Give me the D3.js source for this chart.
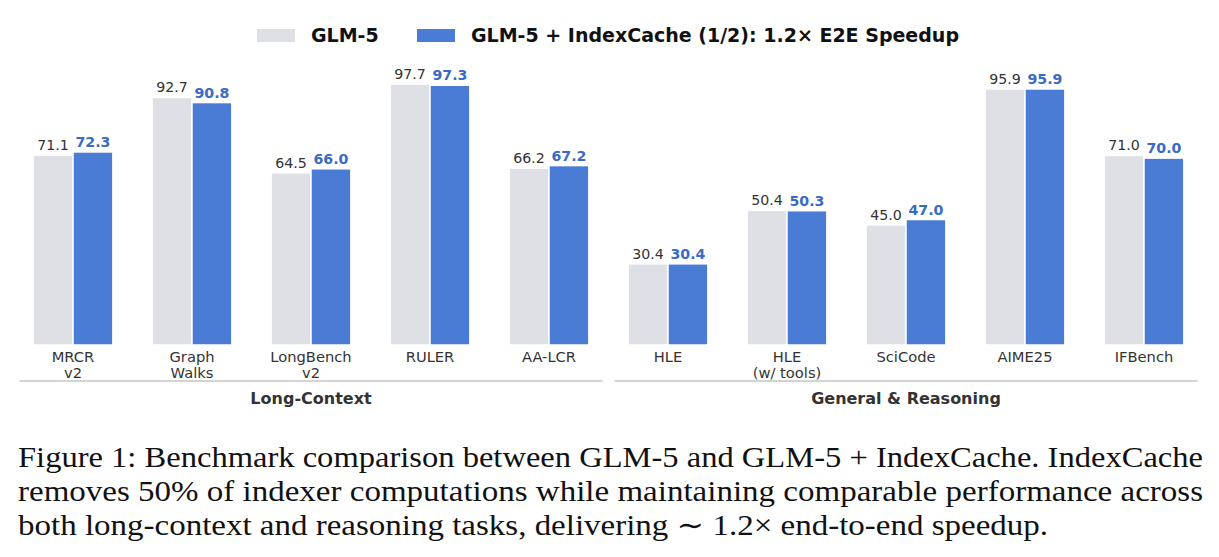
<!DOCTYPE html>
<html>
<head>
<meta charset="utf-8">
<script src="https://cdn.jsdelivr.net/npm/d3@7"></script>
<style>
  body { margin: 0; background: #fff; }
  .sans { font-family: "DejaVu Sans", sans-serif; }
  .caption { font-family: "Liberation Serif", "DejaVu Serif", serif; }
</style>
</head>
<body>
<script>
const categories = ["MRCR\nv2", "Graph\nWalks", "LongBench\nv2", "RULER", "AA-LCR",
                    "HLE", "HLE\n(w/ tools)", "SciCode", "AIME25", "IFBench"];
const groups = ["Long-Context", "General & Reasoning"];
const groupOf = [0, 0, 0, 0, 0, 1, 1, 1, 1, 1];
const seriesNames = ["GLM-5", "GLM-5 + IndexCache (1/2): 1.2\u00d7 E2E Speedup"];
const glm5 = [71.1, 92.7, 64.5, 97.7, 66.2, 30.4, 50.4, 45.0, 95.9, 71.0];
const indexCache = [72.3, 90.8, 66.0, 97.3, 67.2, 30.4, 50.3, 47.0, 95.9, 70.0];
const captionLines = [
  "Figure 1: Benchmark comparison between GLM-5 and GLM-5 + IndexCache. IndexCache",
  "removes 50% of indexer computations while maintaining comparable performance across",
  "both long-context and reasoning tasks, delivering \u223c 1.2\u00d7 end-to-end speedup."
];

const W = 1219, H = 557;
const colors = ["#dfe0e5", "#4a7bd5"];
const labelColors = ["#333333", "#3a6bc4"];

const svg = d3.select("body").append("svg").attr("width", W).attr("height", H);

const x = d3.scaleBand().domain(d3.range(categories.length)).range([13.5, 1203.5]).paddingInner(0.33).paddingOuter(0.165);
const xs = d3.scaleBand().domain([0, 1]).range([0, x.bandwidth()]);
const y = d3.scaleLinear().domain([0, 100]).range([345, 78]);

const data = categories.map((c, i) => ({ i, vals: [glm5[i], indexCache[i]] }));

const g = svg.selectAll(".grp").data(data).enter().append("g")
  .attr("class", "sans")
  .attr("transform", d => `translate(${x(d.i)},0)`);

g.selectAll("rect").data(d => d.vals.map((v, k) => ({ v, k }))).enter().append("rect")
  .attr("x", d => xs(d.k))
  .attr("y", d => y(d.v))
  .attr("width", xs.bandwidth())
  .attr("height", d => y(0) - y(d.v))
  .attr("fill", d => colors[d.k])
  .attr("stroke", "#fff").attr("stroke-width", 1.5);

g.selectAll(".val").data(d => d.vals.map((v, k) => ({ v, k }))).enter().append("text")
  .attr("x", d => xs(d.k) + xs.bandwidth() / 2)
  .attr("y", d => y(d.v) - 5)
  .attr("text-anchor", "middle")
  .attr("font-size", 14.2)
  .attr("font-weight", d => d.k ? "bold" : "normal")
  .attr("fill", d => labelColors[d.k])
  .text(d => d.v.toFixed(1));

// category tick labels
g.append("text")
  .attr("x", x.bandwidth() / 2)
  .attr("y", 362)
  .attr("text-anchor", "middle")
  .attr("font-size", 14.7)
  .attr("fill", "#333")
  .selectAll("tspan").data(d => categories[d.i].split("\n")).enter().append("tspan")
  .attr("x", x.bandwidth() / 2)
  .attr("dy", (d, j) => j ? 16 : 0)
  .text(d => d);

// group separators and titles
groups.forEach((name, gi) => {
  const idx = d3.range(categories.length).filter(i => groupOf[i] === gi);
  const x0 = x(idx[0]) - x.step() * x.paddingInner() / 2;
  const x1 = x(idx[idx.length - 1]) + x.bandwidth() + x.step() * x.paddingInner() / 2;
  svg.append("line")
    .attr("x1", x0 + 6).attr("x2", x1 - 6)
    .attr("y1", 381).attr("y2", 381)
    .attr("stroke", "#aaa").attr("stroke-width", 1.2);
  svg.append("text")
    .attr("class", "sans")
    .attr("x", (x0 + x1) / 2).attr("y", 404)
    .attr("text-anchor", "middle")
    .attr("font-size", 16).attr("font-weight", "bold").attr("fill", "#333")
    .text(name);
});

// legend
const legendX = [257, 417];
seriesNames.forEach((s, k) => {
  svg.append("rect").attr("x", legendX[k]).attr("y", 29).attr("width", 38).attr("height", 13).attr("fill", colors[k]);
  svg.append("text").attr("class", "sans").attr("x", legendX[k] + 54).attr("y", 42)
    .attr("font-size", 19).attr("font-weight", "bold").attr("fill", "#111")
    .text(s);
});

// caption
const captionEnd = [1203, 1203, 1048];
captionLines.forEach((t, j) => {
  svg.append("text")
    .attr("class", "caption")
    .attr("x", 18).attr("y", 467 + j * 34)
    .attr("font-size", 29).attr("fill", "#111")
    .attr("textLength", captionEnd[j] - 18).attr("lengthAdjust", "spacingAndGlyphs")
    .text(t);
});
</script>
</body>
</html>
